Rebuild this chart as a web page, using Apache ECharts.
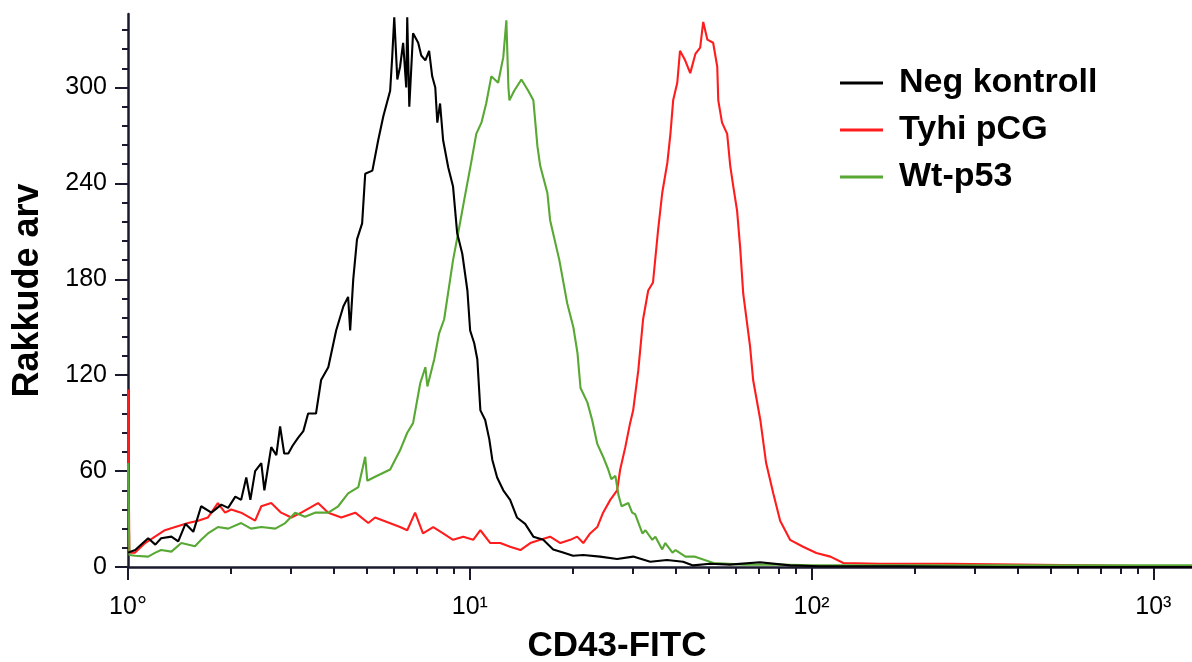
<!DOCTYPE html>
<html>
<head>
<meta charset="utf-8">
<script src="https://cdn.jsdelivr.net/npm/echarts@6/dist/echarts.min.js"></script>
<style>
html,body{margin:0;padding:0;background:#fff;}
#chart{width:1192px;height:662px;}
</style>
</head>
<body>
<div id="chart"></div>
<script>
// x values are log10(CD43-FITC intensity); y = cell count
const negKontroll = [[0.000,9],[0.021,10.6],[0.059,18],[0.080,14],[0.097,18],[0.127,19],[0.147,16],[0.168,27],[0.191,22],[0.214,38],[0.244,34],[0.273,39],[0.293,37],[0.314,44],[0.331,42],[0.346,56],[0.358,42],[0.372,60],[0.390,65],[0.399,48],[0.419,75],[0.434,70],[0.445,88],[0.457,71],[0.469,71],[0.482,76],[0.498,81],[0.513,85],[0.527,96],[0.550,96],[0.565,117],[0.586,125],[0.609,148],[0.630,163],[0.644,169],[0.650,148],[0.659,180],[0.670,205],[0.685,215],[0.694,246],[0.715,248],[0.732,267],[0.747,282],[0.767,298],[0.773,319],[0.779,344],[0.788,305],[0.796,313],[0.805,328],[0.814,300],[0.817,344],[0.823,288],[0.834,334],[0.849,328],[0.858,320],[0.870,317],[0.881,323],[0.890,307],[0.899,300],[0.905,278],[0.913,290],[0.922,267],[0.937,250],[0.951,238],[0.963,209],[0.978,196],[0.993,173],[1.001,148],[1.013,140],[1.022,130],[1.031,98],[1.045,92],[1.057,80],[1.066,67],[1.080,56],[1.098,48],[1.118,42],[1.138,31],[1.162,27],[1.186,19],[1.215,17],[1.244,11],[1.273,9],[1.302,7],[1.332,7.5],[1.381,6.5],[1.431,5],[1.478,6.5],[1.528,3.3],[1.577,4.4],[1.624,3.3],[1.653,1],[1.703,2],[1.761,1.5],[1.849,3],[1.937,1],[2.025,0.5],[2.259,0.5],[2.551,0],[3.113,0]];

const tyhiPCG = [[0.000,111],[0.004,9],[0.021,9],[0.050,15],[0.079,19],[0.108,23],[0.138,25],[0.176,27.5],[0.205,29],[0.234,31],[0.263,40],[0.284,34],[0.302,36],[0.331,34],[0.372,29],[0.390,38],[0.419,40],[0.448,34],[0.478,31],[0.507,34],[0.556,40],[0.586,34],[0.624,31],[0.665,34],[0.703,27.5],[0.723,31],[0.796,25],[0.817,23],[0.840,34],[0.863,21],[0.893,25],[0.922,21],[0.951,17],[0.981,19],[1.010,17],[1.031,23],[1.060,15],[1.089,15],[1.118,12.7],[1.148,10.6],[1.177,15],[1.206,17],[1.235,19],[1.265,15],[1.294,17],[1.314,19],[1.332,15],[1.352,21],[1.373,25],[1.390,34],[1.411,42],[1.431,48],[1.440,61],[1.455,75],[1.469,90],[1.478,98],[1.493,123],[1.507,155],[1.522,173],[1.536,178],[1.551,211],[1.563,234],[1.578,253],[1.587,271],[1.595,292],[1.607,303],[1.615,323],[1.630,317],[1.645,309],[1.660,321],[1.674,325],[1.683,341],[1.695,330],[1.712,328],[1.724,313],[1.727,292],[1.738,278],[1.753,271],[1.762,251],[1.771,238],[1.782,223],[1.791,200],[1.800,171],[1.820,138],[1.829,117],[1.850,92],[1.867,65],[1.888,46],[1.908,29],[1.937,17],[1.975,12.7],[2.014,8.8],[2.055,6.5],[2.093,2.5],[2.200,2],[2.400,2],[2.600,1.5],[2.800,1],[3.000,0.5],[3.113,0.5]];

const wtP53 = [[0.000,65],[0.004,7.5],[0.021,7],[0.059,6.5],[0.080,9],[0.097,10.6],[0.127,9.6],[0.156,15],[0.196,13],[0.214,17],[0.234,21],[0.263,25],[0.293,24],[0.331,27.5],[0.360,24],[0.390,25],[0.431,24],[0.460,27.5],[0.489,34],[0.518,31.5],[0.547,34],[0.586,34],[0.615,38],[0.644,46],[0.674,50],[0.694,69],[0.700,54],[0.723,56.5],[0.767,61],[0.796,73],[0.817,84],[0.834,90],[0.855,115],[0.870,125],[0.876,113],[0.896,130],[0.910,146],[0.925,155],[0.939,175],[0.951,192],[0.966,209],[0.984,230],[1.004,253],[1.019,271],[1.034,278],[1.048,290],[1.063,307],[1.083,303],[1.098,319],[1.107,342],[1.113,300],[1.116,292],[1.130,298],[1.151,305],[1.171,298],[1.186,292],[1.198,263],[1.206,251],[1.227,234],[1.235,217],[1.262,192],[1.285,165],[1.303,150],[1.315,134],[1.324,112],[1.344,103],[1.358,92],[1.373,77],[1.390,69],[1.405,61],[1.414,55],[1.426,57],[1.435,45],[1.444,38],[1.464,40],[1.475,34],[1.484,33],[1.505,21],[1.514,23],[1.534,17],[1.543,19],[1.563,11],[1.572,15],[1.593,9],[1.602,10.6],[1.631,6.5],[1.657,6.5],[1.713,2.5],[1.800,1.5],[1.900,1.5],[2.000,1],[2.200,1],[2.500,1],[2.800,1],[3.113,1]];

const seriesNames = ['Neg kontroll', 'Tyhi pCG', 'Wt-p53'];
const xDecades = [0, 1, 2, 3];
const xDecadeLabels = ['10\u00B0', '10\u00B9', '10\u00B2', '10\u00B3'];
const xMinorMultipliers = [2, 3, 4, 5, 6, 7, 8, 9];
const yMajorTicks = [0, 60, 120, 180, 240, 300];
const yMinorTicks = [12, 24, 36, 48, 72, 84, 96, 108, 132, 144, 156, 168, 192, 204, 216, 228, 252, 264, 276, 288, 312, 324, 336];

const X_MAX = 3.113, Y_MAX = 346;
const axisColor = '#1a1a2e';
const font = '"Liberation Sans", Arial, Helvetica, sans-serif';

const xMinorTicks = [];
xDecades.forEach(d => xMinorMultipliers.forEach(m => {
  const v = d + Math.log10(m);
  if (v <= X_MAX) xMinorTicks.push(v);
}));

const chart = echarts.init(document.getElementById('chart'), null, {renderer: 'canvas'});
chart.setOption({
  animation: false,
  backgroundColor: '#fff',
  grid: {left: 128, right: 0, top: 14, bottom: 95, containLabel: false, outerBoundsMode: 'none'},
  legend: {
    orient: 'vertical', left: 835, top: 58,
    data: seriesNames,
    icon: 'rect', itemWidth: 43, itemHeight: 3, itemGap: 7,
    textStyle: {fontFamily: font, fontSize: 34, fontWeight: 'bold', color: '#000', lineHeight: 40, padding: [0, 0, 0, 11]}
  },
  xAxis: [
    {
      type: 'value', min: 0, max: X_MAX, position: 'bottom',
      axisLine: {show: true, onZero: false, lineStyle: {color: axisColor, width: 2.5}},
      axisTick: {show: true, customValues: xDecades, length: 13, lineStyle: {color: axisColor, width: 2}},
      axisLabel: {show: true, customValues: xDecades, margin: 28, fontFamily: font, fontSize: 25, color: '#000',
        formatter: v => xDecadeLabels[Math.round(v)]},
      splitLine: {show: false},
      name: 'CD43-FITC', nameLocation: 'middle', nameGap: 62,
      nameTextStyle: {fontFamily: font, fontSize: 35, fontWeight: 'bold', color: '#000', padding: [0, 86, 0, 0]}
    },
    {
      type: 'value', min: 0, max: X_MAX, position: 'bottom', gridIndex: 0,
      axisLine: {show: false, onZero: false},
      axisTick: {show: true, customValues: xMinorTicks, length: 7, lineStyle: {color: axisColor, width: 2}},
      axisLabel: {show: false},
      splitLine: {show: false}
    }
  ],
  yAxis: [
    {
      type: 'value', min: 0, max: Y_MAX, position: 'left',
      axisLine: {show: true, onZero: false, lineStyle: {color: axisColor, width: 2.5}},
      axisTick: {show: true, customValues: yMajorTicks, length: 13, lineStyle: {color: axisColor, width: 2}},
      axisLabel: {show: true, customValues: yMajorTicks, margin: 21, fontFamily: font, fontSize: 25, color: '#000'},
      splitLine: {show: false},
      name: 'Rakkude arv', nameLocation: 'middle', nameGap: 82,
      nameTextStyle: {fontFamily: font, fontSize: 36, fontWeight: 'bold', color: '#000'}
    },
    {
      type: 'value', min: 0, max: Y_MAX, position: 'left',
      axisLine: {show: false, onZero: false},
      axisTick: {show: true, customValues: yMinorTicks, length: 6, lineStyle: {color: axisColor, width: 2}},
      axisLabel: {show: false},
      splitLine: {show: false}
    }
  ],
  series: [
    {name: 'Tyhi pCG', type: 'line', data: tyhiPCG, showSymbol: false, color: '#ff1c1c', lineStyle: {width: 2.1}, z: 3},
    {name: 'Wt-p53', type: 'line', data: wtP53, showSymbol: false, color: '#58a834', lineStyle: {width: 2.1}, z: 4},
    {name: 'Neg kontroll', type: 'line', data: negKontroll, showSymbol: false, color: '#000000', lineStyle: {width: 2.1}, z: 5}
  ]
});
</script>
</body>
</html>
